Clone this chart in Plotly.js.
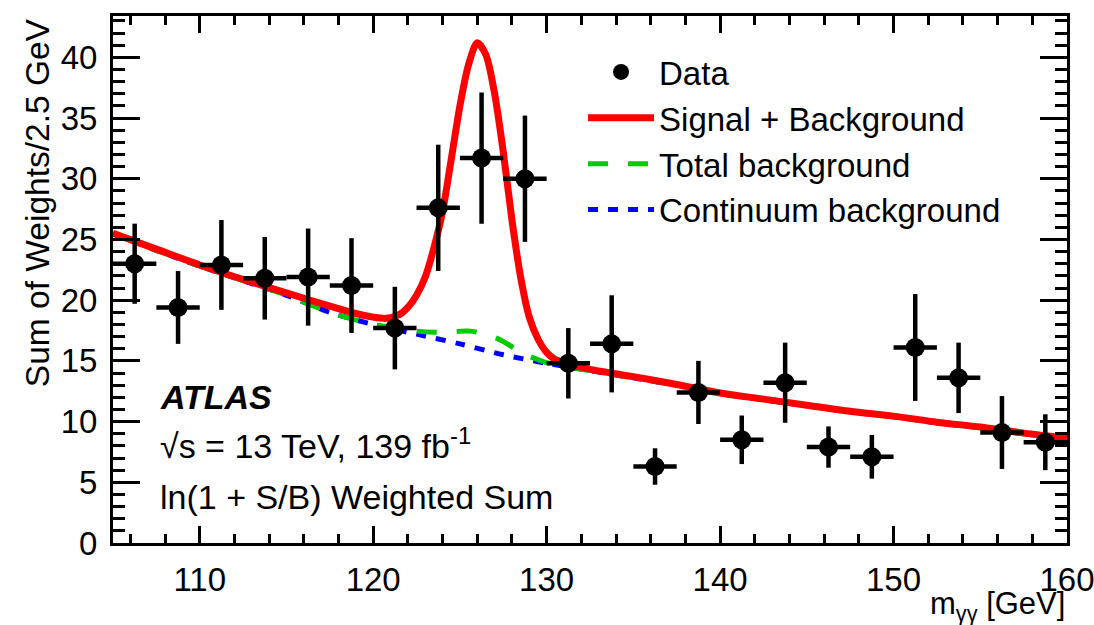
<!DOCTYPE html>
<html>
<head>
<meta charset="utf-8">
<script src="https://cdn.plot.ly/plotly-3.0.1.min.js"></script>
<style>
  html, body { margin: 0; padding: 0; background: #fff; }
  #chart { width: 1094px; height: 625px; }
</style>
</head>
<body>
<div id="chart"></div>
<script>
// ---- Data ----
const binCenters = [106.25, 108.75, 111.25, 113.75, 116.25, 118.75, 121.25, 123.75, 126.25, 128.75, 131.25,
                    133.75, 136.25, 138.75, 141.25, 143.75, 146.25, 148.75, 151.25, 153.75, 156.25, 158.75];
const dataValues = [23.0, 19.4, 22.9, 21.8, 21.9, 21.2, 17.7, 27.6, 31.7, 30.0, 14.8,
                    16.4, 6.3, 12.4, 8.5, 13.2, 7.9, 7.1, 16.1, 13.6, 9.1, 8.3];
const dataErrors = [3.3, 3.0, 3.7, 3.4, 4.0, 3.9, 3.4, 5.2, 5.4, 5.2, 2.9,
                    4.0, 1.5, 2.6, 2.0, 3.3, 1.7, 1.8, 4.4, 2.9, 3.0, 2.3];
const binHalfWidth = [1.25, 1.25, 1.25, 1.25, 1.25, 1.25, 1.25, 1.25, 1.25, 1.25, 1.25,
                      1.25, 1.25, 1.25, 1.25, 1.25, 1.25, 1.25, 1.25, 1.25, 1.25, 1.25];

const sbMass = [105, 107.5, 110, 112.5, 115, 117.5, 119, 120, 120.75, 121.5, 122, 122.5, 123, 123.5, 124,
                124.5, 125, 125.5, 126, 126.5, 127, 127.5, 128, 128.5, 129, 129.5, 130, 130.5, 131.25,
                132.5, 135, 137.5, 140, 142.5, 145, 147.5, 150, 152.5, 155, 157.5, 160];
const sbValues = [25.5, 24.2, 22.9, 21.7, 20.6, 19.5, 18.9, 18.6, 18.5, 18.8, 19.4, 20.4, 21.9, 24.3, 27.3,
                  31.6, 36.0, 39.4, 41.2, 40.2, 37.0, 32.2, 26.6, 21.9, 18.6, 16.8, 15.7, 15.1, 14.75,
                  14.3, 13.7, 13.05, 12.35, 11.85, 11.35, 10.85, 10.45, 9.95, 9.55, 9.05, 8.65];

const totMass = [105, 107.5, 110, 112.5, 115, 117.5, 120, 121.5, 122.5, 123.5, 124.5, 125.5, 126.5, 127.5,
                 128.5, 129.5, 130, 132.5, 135, 137.5, 140, 142.5, 145, 147.5, 150, 152.5, 155, 157.5, 160];
const totValues = [25.5, 24.1, 22.8, 21.6, 20.4, 19.0, 18.0, 17.7, 17.45, 17.35, 17.4, 17.45, 17.2, 16.6,
                   15.7, 15.1, 14.85, 14.2, 13.6, 13.0, 12.3, 11.8, 11.3, 10.8, 10.4, 9.9, 9.5, 9.0, 8.6];

const contMass = [105, 107.5, 110, 112.5, 115, 117.5, 120, 122.5, 125, 127.5, 130, 132.5, 135, 137.5,
                  140, 142.5, 145, 147.5, 150, 152.5, 155, 157.5, 160];
const contValues = [25.5, 24.1, 22.8, 21.6, 20.4, 19.0, 18.0, 17.2, 16.4, 15.5, 14.8, 14.2, 13.6, 13.0,
                    12.3, 11.8, 11.3, 10.8, 10.4, 9.9, 9.5, 9.0, 8.6];

const xTitle = 'm<sub>γγ</sub> [GeV]';
const yTitle = 'Sum of Weights/2.5 GeV';
const legendNames = ['Data', 'Signal + Background', 'Total background', 'Continuum background'];

// ---- Plot ----
const FONT = 'Liberation Sans, Arial, Helvetica, sans-serif';

const traces = [
  { x: contMass, y: contValues, type: 'scatter', mode: 'lines', name: legendNames[3],
    line: { color: '#0000ff', width: 5, dash: '10px,10px', shape: 'spline', smoothing: 0.8 } },
  { x: totMass, y: totValues, type: 'scatter', mode: 'lines', name: legendNames[2],
    line: { color: '#00cc00', width: 5, dash: '20px,20px', shape: 'spline', smoothing: 0.8 } },
  { x: sbMass, y: sbValues, type: 'scatter', mode: 'lines', name: legendNames[1],
    line: { color: '#ff0000', width: 7, shape: 'spline', smoothing: 0.8 } },
  { x: binCenters, y: dataValues, type: 'scatter', mode: 'markers', name: legendNames[0],
    marker: { color: '#000', size: 19, symbol: 'circle' },
    error_y: { type: 'data', array: dataErrors, visible: true, color: '#000', thickness: 4.5, width: 0 },
    error_x: { type: 'data', array: binHalfWidth, visible: true, color: '#000', thickness: 4.5, width: 0 } }
];

const axisCommon = {
  showline: true, linecolor: '#000', linewidth: 3, mirror: 'ticks',
  ticks: 'inside', tickcolor: '#000', tickwidth: 3,
  showgrid: false, zeroline: false, ticklabeloverflow: 'allow',
  tickfont: { family: FONT, size: 33, color: '#000' }
};

const layout = {
  width: 1094, height: 625,
  paper_bgcolor: '#fff', plot_bgcolor: '#fff',
  margin: { l: 113, r: 27, t: 16, b: 82 },
  showlegend: true,
  legend: {
    x: 0.4927, y: 0.947, xanchor: 'left', yanchor: 'top',
    bgcolor: 'rgba(0,0,0,0)', borderwidth: 0,
    traceorder: 'reversed',
    font: { family: FONT, size: 33, color: '#000' },
    itemwidth: 66
  },
  xaxis: Object.assign({}, axisCommon, {
    range: [105, 160], dtick: 10, tick0: 0, ticklen: 17, ticklabelstandoff: 5,
    minor: { dtick: 2, tick0: 0, ticklen: 9, tickwidth: 3, tickcolor: '#000', ticks: 'inside', showgrid: false }
  }),
  yaxis: Object.assign({}, axisCommon, {
    range: [0, 43.4], dtick: 5, tick0: 0, ticklen: 27, ticklabelstandoff: 6,
    minor: { dtick: 1, tick0: 0, ticklen: 12, tickwidth: 3, tickcolor: '#000', ticks: 'inside', showgrid: false }
  }),
  annotations: [
    { xref: 'paper', yref: 'paper', x: 1.0, y: -0.119, xanchor: 'right', yanchor: 'middle',
      text: xTitle, showarrow: false, font: { family: FONT, size: 31, color: '#000' } },
    { xref: 'paper', yref: 'paper', x: -0.079, y: 1.0, xanchor: 'center', yanchor: 'top',
      text: yTitle, textangle: -90, showarrow: false, font: { family: FONT, size: 33.5, color: '#000' } },
    { xref: 'paper', yref: 'paper', x: 0.047, y: 0.277, xanchor: 'left', yanchor: 'middle',
      text: '<b><i>ATLAS</i></b>', showarrow: false, font: { family: FONT, size: 34, color: '#000' } },
    { xref: 'paper', yref: 'paper', x: 0.047, y: 0.188, xanchor: 'left', yanchor: 'middle',
      text: '√s = 13 TeV, 139 fb<sup>-1</sup>', showarrow: false, font: { family: FONT, size: 34, color: '#000' } },
    { xref: 'paper', yref: 'paper', x: 0.047, y: 0.087, xanchor: 'left', yanchor: 'middle',
      text: 'ln(1 + S/B) Weighted Sum', showarrow: false, font: { family: FONT, size: 34, color: '#000' } }
  ]
};

Plotly.newPlot('chart', traces, layout, { displayModeBar: false, staticPlot: true });
</script>
</body>
</html>
